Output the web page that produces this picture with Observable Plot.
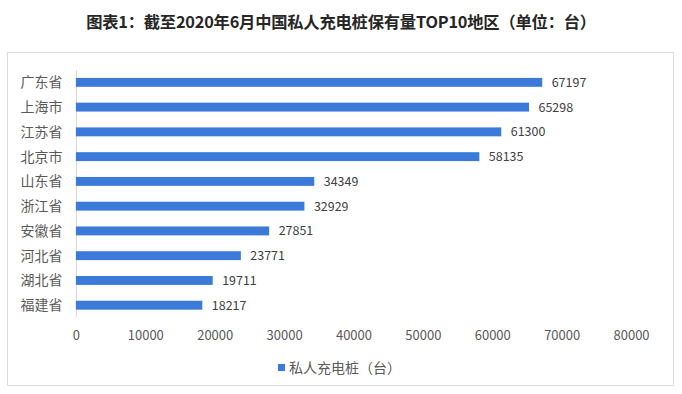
<!DOCTYPE html>
<html>
<head>
<meta charset="utf-8">
<script src="https://cdn.jsdelivr.net/npm/d3@7"></script>
<script src="https://cdn.jsdelivr.net/npm/@observablehq/plot@0.6"></script>
<style>
  html, body { margin: 0; padding: 0; background: #fff; }
  body { width: 682px; height: 394px; position: relative; overflow: hidden;
         font-family: "Noto Sans CJK SC", "Noto Sans", sans-serif; }
  #title { position: absolute; left: 0; top: 9px; width: 682px; text-align: center;
           font-size: 16.3px; font-weight: bold; color: #262626; letter-spacing: -0.2px; }
  #box { position: absolute; left: 7px; top: 52px; width: 667px; height: 334px;
         border: 1px solid #dcdcdc; box-sizing: border-box; }
  #chart { position: absolute; left: 0; top: 0; }
  #legend { position: absolute; left: 270px; top: 304px; font-size: 14px; color: #595959;
            display: flex; align-items: center; }
  #legend .sw { width: 7px; height: 7px; background: #3b7ad9; margin-right: 4px; }
</style>
</head>
<body>
<div id="title">图表1：截至2020年6月中国私人充电桩保有量TOP10地区（单位：台）</div>
<div id="box">
  <div id="chart"></div>
  <div id="legend"><span class="sw"></span><span>私人充电桩（台）</span></div>
</div>
<script>
const regions = ["广东省", "上海市", "江苏省", "北京市", "山东省", "浙江省", "安徽省", "河北省", "湖北省", "福建省"];
const values = [67197, 65298, 61300, 58135, 34349, 32929, 27851, 23771, 19711, 18217];
const xTicks = [0, 10000, 20000, 30000, 40000, 50000, 60000, 70000, 80000];
const seriesName = "私人充电桩（台）";

const data = regions.map((r, i) => ({region: r, value: values[i], series: seriesName}));
const barColor = "#3b7ad9";

const chart = Plot.plot({
  width: 666,
  height: 295,
  marginLeft: 68,
  marginRight: 42,
  marginTop: 17,
  marginBottom: 30,
  style: {fontFamily: "'Noto Sans CJK SC', 'Noto Sans', sans-serif", fontSize: "13px", color: "#595959", background: "transparent"},
  x: {domain: [0, 80000]},
  y: {domain: regions, paddingInner: 0.64, paddingOuter: 0.32, round: false},
  marks: [
    Plot.ruleX([0], {stroke: "#d9d9d9"}),
    Plot.barX(data, {x: "value", y: "region", fill: barColor}),
    Plot.text(data, {x: "value", y: "region", text: d => String(d.value), dx: 9, textAnchor: "start", fontSize: 12.5, fill: "#404040"}),
    Plot.axisX({ticks: xTicks, tickFormat: d => String(d), tickSize: 0, tickPadding: 13, fontSize: 13, label: null}),
    Plot.axisY({tickSize: 0, tickPadding: 14, fontSize: 14, label: null})
  ]
});
document.getElementById("chart").appendChild(chart);
</script>
</body>
</html>
